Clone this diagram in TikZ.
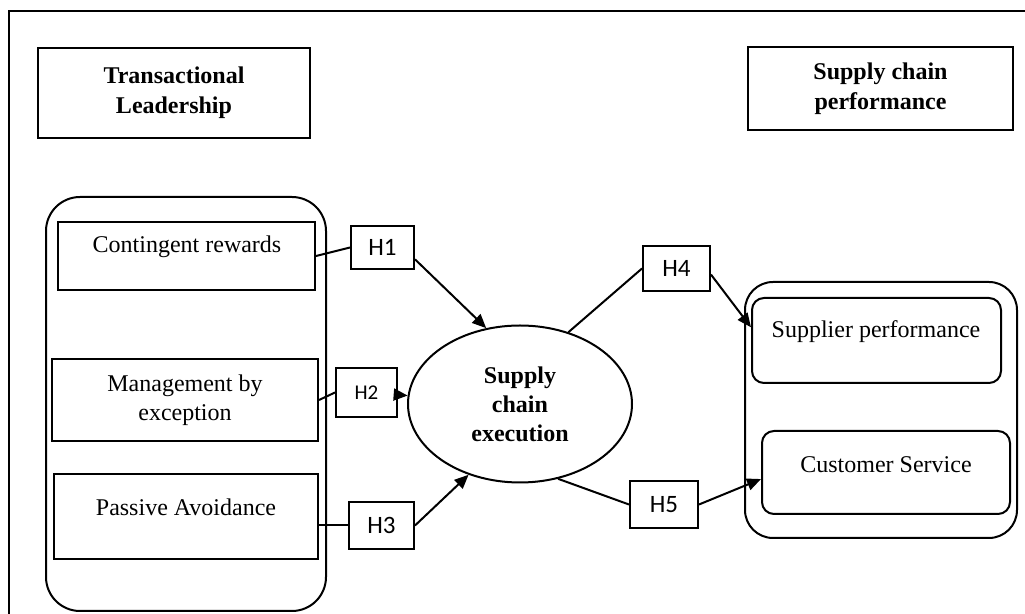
\documentclass[tikz,border=0pt]{standalone}
\usepackage{fontspec}
\setmainfont{Liberation Serif}
\newfontfamily\hfont{Carlito}
\usetikzlibrary{arrows.meta,shapes.geometric}

\begin{document}
\begin{tikzpicture}[x=0.5pt,y=-0.5pt,line width=1pt,
  font=\fontsize{12}{14.5}\selectfont,
  box/.style={draw,rectangle,inner sep=0pt},
  hbox/.style={draw,rectangle,inner sep=0pt,font=\hfont\fontsize{12.5}{14}\selectfont},
  arr/.style={-{Triangle[length=7pt,width=6pt]}}]
\useasboundingbox (0,0) rectangle (1025,614);
\draw[line width=0.75pt] (1025,11) -- (9,11) -- (9,614);
% headings
\node[box,minimum width=136pt,minimum height=45pt,align=center,font=\fontsize{12}{15}\selectfont\bfseries] (tl) at (174,93) {Transactional\\Leadership};
\node[box,minimum width=132.5pt,minimum height=41.5pt,align=center,font=\fontsize{12}{15}\selectfont\bfseries] (scp) at (880.5,88.5) {Supply chain\\performance};
% left group
\node[box,rounded corners=17pt,minimum width=140pt,minimum height=207pt] (lgroup) at (186,404) {};
\node[box,minimum width=128.5pt,minimum height=34pt] (cr) at (186.5,256) {};
\node (crtext) at (187,247) {Contingent rewards};
\node[box,minimum width=133pt,minimum height=41pt,align=center] (mbe) at (185,400) {Management by\\exception};
\node[box,minimum width=132pt,minimum height=42.5pt] (pa) at (186,516.5) {};
\node (patext) at (186,507) {Passive Avoidance};
% hypotheses
\node[hbox,minimum width=31.5pt,minimum height=21.5pt] (h1) at (382.5,247.5) {H1};
\node[hbox,minimum width=30.5pt,minimum height=24.5pt,font=\hfont\fontsize{10.5}{12}\selectfont] (h2) at (366.5,392.5) {H2};
\node[hbox,minimum width=32.5pt,minimum height=23.5pt] (h3) at (381.5,525.5) {H3};
\node[hbox,minimum width=33.5pt,minimum height=22.5pt] (h4) at (676.5,268.5) {H4};
\node[hbox,minimum width=34pt,minimum height=23.5pt] (h5) at (664,504.5) {H5};
% mediator
\node[draw,ellipse,inner sep=0pt,minimum width=112pt,minimum height=78.5pt,align=center,font=\fontsize{12}{14.5}\selectfont\bfseries] (sce) at (520,404) {Supply\\chain\\execution};
% right group
\node[box,rounded corners=14pt,minimum width=136pt,minimum height=128pt] (rgroup) at (881,410) {};
\node[box,rounded corners=6pt,minimum width=124.5pt,minimum height=42.5pt] (sp) at (876.5,340.5) {};
\node (sptext) at (876,332) {Supplier performance};
\node[box,rounded corners=6pt,minimum width=124pt,minimum height=41.5pt] (cs) at (886,472.5) {};
\node (cstext) at (886,465) {Customer Service};
% paths
\draw (cr.east) -- (h1.west);
\draw[arr] (h1.-20) -- (sce.114);
\draw (mbe.east) -- (h2.west);
\draw[arr] (h2) -- (sce);
\draw (h3.west -| pa.east) -- (h3.west);
\draw[arr] (h3.east) -- (sce.234);
\draw (sce.56) -- (h4.west);
\draw[arr] (h4.-10) -- (sp.174);
\draw (sce.-63) -- (h5.west);
\draw[arr] (h5.east) -- (cs.183);
\end{tikzpicture}
\end{document}
